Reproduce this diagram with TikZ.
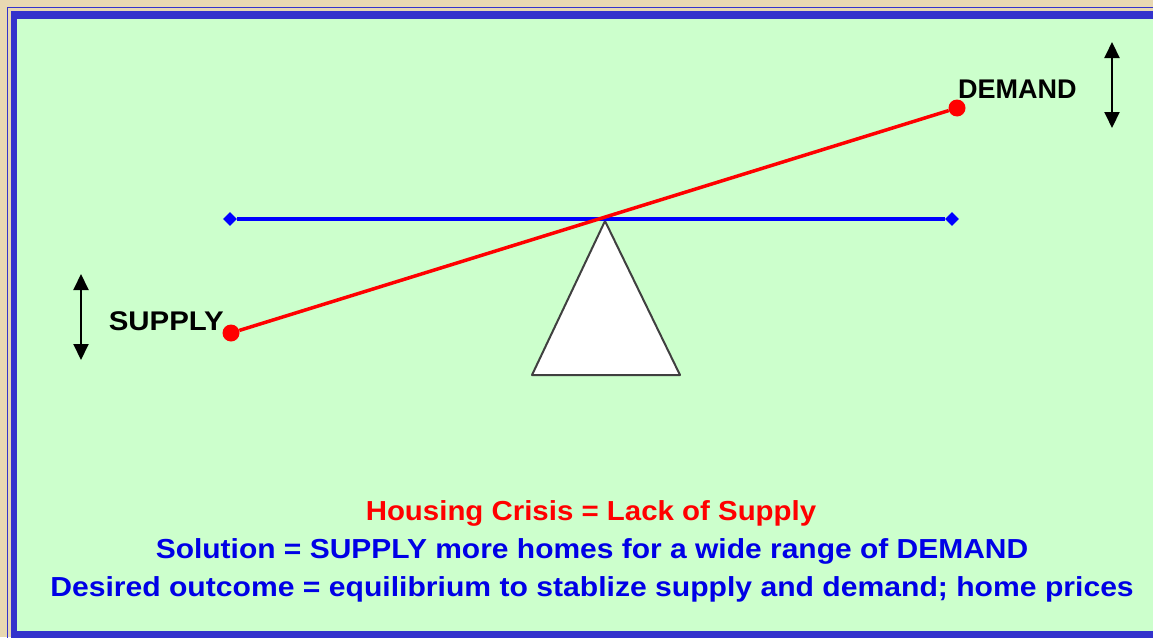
\documentclass[tikz,border=0pt]{standalone}
\usepackage{fontspec}
\setmainfont{Liberation Sans}
\usetikzlibrary{arrows.meta,shapes.geometric}
\definecolor{beige}{RGB}{232,216,178}
\definecolor{panelgreen}{RGB}{204,255,204}
\definecolor{frameblue}{RGB}{51,51,204}
\definecolor{beamblue}{RGB}{0,0,255}
\definecolor{textblue}{RGB}{0,0,230}
\definecolor{textred}{RGB}{255,0,0}
\begin{document}
\begin{tikzpicture}[x=1pt,y=-1pt,
  dot/.style={circle,fill=textred,minimum size=17pt,inner sep=0pt},
  diam/.style={diamond,fill=beamblue,minimum size=14pt,inner sep=0pt},
  lbl/.style={font=\bfseries\fontsize{27}{32}\selectfont,text=black,inner sep=0pt},
  bottomline/.style={font=\bfseries\fontsize{27.5}{32}\selectfont,inner sep=0pt},
  dblarrow/.style={line width=2pt,{Triangle[width=15pt,length=16pt]}-{Triangle[width=15pt,length=16pt]}},
  beam/.style={beamblue,line width=4pt},
  lever/.style={textred,line width=3.5pt}]
\useasboundingbox (0,0) rectangle (1153,637);
% background and frame
\fill[beige] (0,0) rectangle (1153,637);
\draw[frameblue,line width=1.5pt] (7.5,650) -- (7.5,7.5) -- (1160,7.5);
\fill[frameblue] (11,11) rectangle (1160,650);
\fill[panelgreen] (17,19) rectangle (1160,631);
% fulcrum
\draw[fill=white,draw=black!75,line width=2pt,line join=round] (532,375) -- (605,221) -- (680,375) -- cycle;
% beam
\node[diam] (bl) at (230,219) {};
\node[diam] (br) at (952,219) {};
\draw[beam] (bl) -- (br);
% lever
\node[dot] (sd) at (231,333) {};
\node[dot] (dd) at (957,108) {};
\draw[lever] (sd) -- (dd);
% labels
\node[lbl,anchor=west] (demand) at (958,89) {DEMAND};
\node[lbl,anchor=east] (supply) at (224,321) {\scalebox{1.09}[1]{SUPPLY}};
% arrows
\coordinate (dt) at (1112,42);
\coordinate (db) at (1112,128);
\draw[dblarrow] (dt) -- (db);
\coordinate (st) at (81,274);
\coordinate (sb) at (81,360);
\draw[dblarrow] (st) -- (sb);
% bottom text
\node[bottomline,text=textred] (l1) at (591,513) {\scalebox{1.07}[1]{Housing Crisis = Lack of Supply}};
\node[bottomline,text=textblue] (l2) at (592,551) {\scalebox{1.09}[1]{Solution = SUPPLY more homes for a wide range of DEMAND}};
\node[bottomline,text=textblue] (l3) at (592,589) {\scalebox{1.095}[1]{Desired outcome = equilibrium to stablize supply and demand; home prices}};
\end{tikzpicture}
\end{document}
